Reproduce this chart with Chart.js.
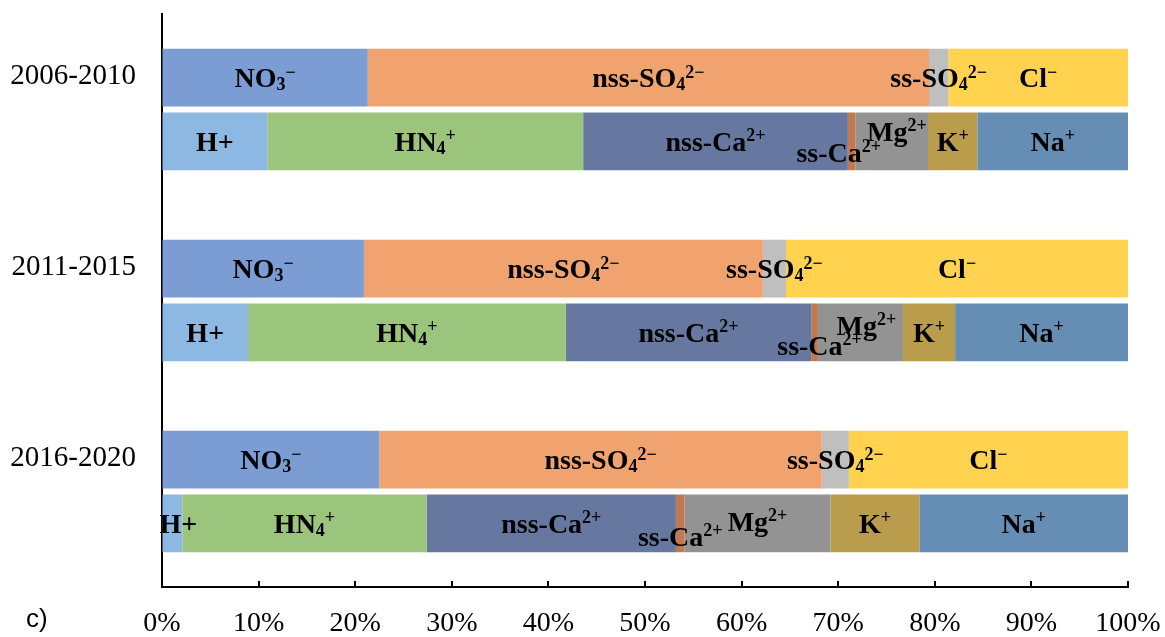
<!DOCTYPE html>
<html>
<head>
<meta charset="utf-8">
<script src="https://cdn.jsdelivr.net/npm/chart.js@4/dist/chart.umd.min.js"></script>
<style>
  html, body { margin: 0; padding: 0; background: #ffffff; }
  #wrap { position: relative; width: 1165px; height: 637px; }
  canvas { display: block; }
</style>
</head>
<body>
<div id="wrap"><canvas id="c" width="1165" height="637"></canvas></div>
<script>
// Periods (one row per period: anion bar on top, cation bar below)
const periods = ['2006-2010', '2011-2015', '2016-2020'];

// Anion shares (%)
const no3    = [21.3, 20.9, 22.5];
const nssSO4 = [58.1, 41.3, 45.8];
const ssSO4  = [2.0, 2.4, 2.8];
const cl     = [18.6, 35.4, 28.9];

// Cation shares (%)
const hPlus  = [10.9, 8.9, 2.1];
const nh4    = [32.7, 32.9, 25.3];
const nssCa  = [27.4, 25.4, 25.8];
const ssCa   = [0.8, 0.7, 0.9];
const mg     = [7.5, 8.8, 15.1];
const k      = [5.1, 5.4, 9.2];
const na     = [15.6, 17.9, 21.6];

// Axis tick values (%)
const xTicks = [0, 10, 20, 30, 40, 50, 60, 70, 80, 90, 100];

// Label text pieces: [text, kind] where kind is '' (normal), 'sub' or 'sup'
const runs = {
  no3:    [['NO', ''], ['3', 'sub'], ['\u2212', 'sup']],
  nssSO4: [['nss-SO', ''], ['4', 'sub'], ['2\u2212', 'sup']],
  ssSO4:  [['ss-SO', ''], ['4', 'sub'], ['2\u2212', 'sup']],
  cl:     [['Cl', ''], ['\u2212', 'sup']],
  hPlus:  [['H+', '']],
  nh4:    [['HN', ''], ['4', 'sub'], ['+', 'sup']],
  nssCa:  [['nss-Ca', ''], ['2+', 'sup']],
  ssCa:   [['ss-Ca', ''], ['2+', 'sup']],
  mg:     [['Mg', ''], ['2+', 'sup']],
  k:      [['K', ''], ['+', 'sup']],
  na:     [['Na', ''], ['+', 'sup']]
};

// Hand placement of crowded labels, [dx, dy] per period
const nudge = {
  ssCa: [[-13, 11], [5, 13], [0, 13]],
  mg:   [[5, -10], [6, -7], [0, -2]],
  hPlus:[[0, 0], [0, 0], [6, 0]]
};

const series = [
  { key: 'no3',    data: no3,    stack: 'anion',  color: '#7b9dd4' },
  { key: 'nssSO4', data: nssSO4, stack: 'anion',  color: '#f0a36e' },
  { key: 'ssSO4',  data: ssSO4,  stack: 'anion',  color: '#bfbfbf' },
  { key: 'cl',     data: cl,     stack: 'anion',  color: '#ffd24f' },
  { key: 'hPlus',  data: hPlus,  stack: 'cation', color: '#8db8e1' },
  { key: 'nh4',    data: nh4,    stack: 'cation', color: '#9bc47d' },
  { key: 'nssCa',  data: nssCa,  stack: 'cation', color: '#6778a0' },
  { key: 'ssCa',   data: ssCa,   stack: 'cation', color: '#c07a4d' },
  { key: 'mg',     data: mg,     stack: 'cation', color: '#939393' },
  { key: 'k',      data: k,      stack: 'cation', color: '#b99c4c' },
  { key: 'na',     data: na,     stack: 'cation', color: '#668eb4' }
];

const LABEL_SIZE = 28;
const SMALL = 0.64;
const SERIF = '"Liberation Serif", "Times New Roman", serif';

function drawRuns(ctx, parts, cx, cy) {
  const big = 'bold ' + LABEL_SIZE + 'px ' + SERIF;
  const small = 'bold ' + Math.round(LABEL_SIZE * SMALL) + 'px ' + SERIF;
  let total = 0;
  const widths = parts.map(([t, kind]) => {
    ctx.font = kind ? small : big;
    const w = ctx.measureText(t).width;
    total += w;
    return w;
  });
  let x = cx - total / 2;
  const base = cy + LABEL_SIZE * 0.33;
  parts.forEach(([t, kind], i) => {
    ctx.font = kind ? small : big;
    let y = base;
    if (kind === 'sub') y = base + 3;
    if (kind === 'sup') y = base - LABEL_SIZE * 0.33;
    ctx.fillText(t, x, y);
    x += widths[i];
  });
}

const segmentLabels = {
  id: 'segmentLabels',
  afterDatasetsDraw(chart) {
    const ctx = chart.ctx;
    ctx.save();
    ctx.fillStyle = '#000000';
    ctx.textAlign = 'left';
    ctx.textBaseline = 'alphabetic';
    chart.data.datasets.forEach((ds, di) => {
      const meta = chart.getDatasetMeta(di);
      meta.data.forEach((bar, i) => {
        const cx = (bar.x + bar.base) / 2;
        const off = nudge[ds.key] ? nudge[ds.key][i] : [0, 0];
        drawRuns(ctx, runs[ds.key], cx + off[0], bar.y + off[1]);
      });
    });
    ctx.restore();
  }
};

// Inward tick marks on the value axis, plus the panel letter
const axisExtras = {
  id: 'axisExtras',
  afterDraw(chart) {
    const ctx = chart.ctx;
    const xs = chart.scales.x;
    const bottom = chart.chartArea.bottom;
    ctx.save();
    ctx.strokeStyle = '#000000';
    ctx.lineWidth = 2;
    xTicks.forEach(v => {
      const px = Math.round(xs.getPixelForValue(v));
      ctx.beginPath();
      ctx.moveTo(px, bottom);
      ctx.lineTo(px, bottom - 6);
      ctx.stroke();
    });
    ctx.fillStyle = '#000000';
    ctx.font = '26px "Liberation Sans", Arial, sans-serif';
    ctx.textAlign = 'left';
    ctx.textBaseline = 'middle';
    ctx.fillText('c)', 26, 620);
    ctx.restore();
  }
};

new Chart(document.getElementById('c'), {
  type: 'bar',
  data: {
    labels: periods,
    datasets: series.map(s => ({
      key: s.key,
      label: s.key,
      data: s.data,
      stack: s.stack,
      backgroundColor: s.color,
      borderWidth: 0,
      categoryPercentage: 0.667,
      barPercentage: 0.906
    }))
  },
  options: {
    indexAxis: 'y',
    responsive: false,
    animation: false,
    devicePixelRatio: 1,
    layout: { padding: { left: 0, top: 14, right: 37, bottom: 0 } },
    plugins: {
      legend: { display: false },
      tooltip: { enabled: false }
    },
    scales: {
      x: {
        stacked: true,
        min: 0,
        max: 100,
        afterBuildTicks(scale) { scale.ticks = xTicks.map(v => ({ value: v })); },
        afterFit(scale) {
          scale.height = 50;
          scale.paddingLeft = 0;
          scale.paddingRight = 0;
        },
        grid: { display: true, drawOnChartArea: false, drawTicks: false },
        border: { display: true, color: '#000000', width: 2 },
        ticks: {
          padding: 20,
          color: '#000000',
          font: { family: SERIF, size: 28 },
          callback: v => v + '%'
        }
      },
      y: {
        stacked: true,
        afterFit(scale) {
          scale.width = 162;
          scale.paddingTop = 0;
          scale.paddingBottom = 0;
        },
        grid: { display: false, drawTicks: false },
        border: { display: true, color: '#000000', width: 2 },
        ticks: {
          padding: 26,
          labelOffset: -33,
          color: '#000000',
          font: { family: SERIF, size: 29 }
        }
      }
    }
  },
  plugins: [segmentLabels, axisExtras]
});
</script>
</body>
</html>
